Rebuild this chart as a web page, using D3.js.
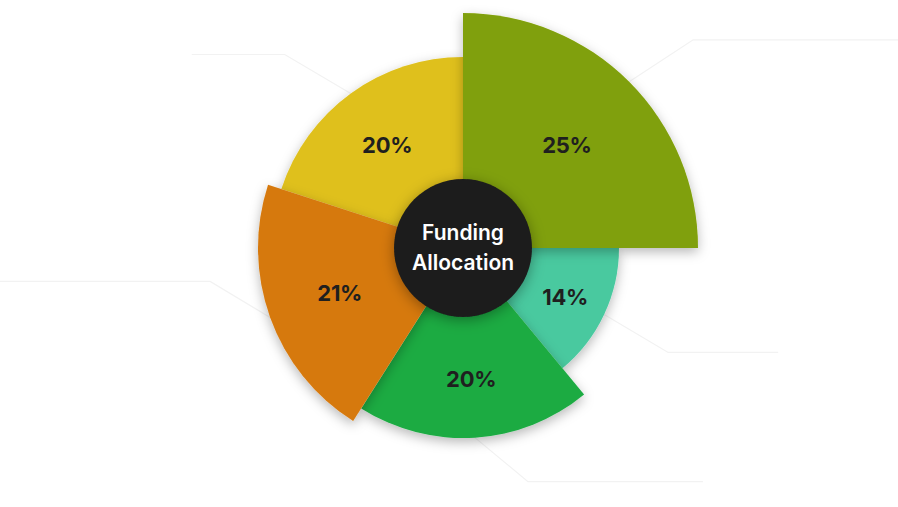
<!DOCTYPE html>
<html>
<head>
<meta charset="utf-8">
<script src="https://cdn.jsdelivr.net/npm/d3@7"></script>
<style>
  html, body { margin: 0; padding: 0; background: #fff; }
  svg { display: block; }
</style>
</head>
<body>
<svg id="chart" width="898" height="507"></svg>
<script>
// ---- data ----
const categories = ["A", "B", "C", "D", "E"];
const shares = [25, 14, 20, 21, 20];            // percent
const radiusWeight = [235, 156, 190, 205, 191]; // relative outer extent (rose-style)
const colors = ["#80a008", "#48c99f", "#1bab43", "#d6790c", "#dfc01d"];
const centerTitle = ["Funding", "Allocation"];

// ---- layout ----
const W = 898, H = 507;
const cx = 463, cy = 248;
const innerR = 69;
const leader = {
  dx: [64, 64, 53, 60, 66],
  dy: [42, 38, 44, 36, 39],
  up: [true, false, false, true, true],
  right: [true, true, true, false, false],
  len: [210, 110, 175, 212, 93]
};
const labelR = [147, 113, 130, 131, 129];

const svg = d3.select("#chart");
const defs = svg.append("defs");
const f = defs.append("filter").attr("id", "sh").attr("x", "-30%").attr("y", "-30%").attr("width", "160%").attr("height", "160%");
f.append("feDropShadow").attr("dx", 0).attr("dy", 4).attr("stdDeviation", 6).attr("flood-color", "#000").attr("flood-opacity", 0.28);
const f2 = defs.append("filter").attr("id", "sh2").attr("x", "-50%").attr("y", "-50%").attr("width", "200%").attr("height", "200%");
f2.append("feDropShadow").attr("dx", 0).attr("dy", 3).attr("stdDeviation", 7).attr("flood-color", "#000").attr("flood-opacity", 0.35);

const rScale = d3.scaleLinear().domain([0, 235]).range([0, 235]);

const pie = d3.pie().value(d => d.v).sort(null);
const data = categories.map((c, i) => ({ c, v: shares[i], r: radiusWeight[i], color: colors[i], i }));
const arcsData = pie(data);

const g = svg.append("g").attr("transform", `translate(${cx},${cy})`);

// leader lines
const lineG = g.append("g");
arcsData.forEach(a => {
  const i = a.data.i;
  const mid = (a.startAngle + a.endAngle) / 2;
  const R = rScale(a.data.r);
  const sx = Math.sin(mid) * R, sy = -Math.cos(mid) * R;
  const dirX = leader.right[i] ? 1 : -1, dirY = leader.up[i] ? -1 : 1;
  const ex = sx + dirX * leader.dx[i], ey = sy + dirY * leader.dy[i];
  const hx = ex + dirX * leader.len[i];
  lineG.append("path")
    .attr("d", d3.line()([[sx, sy], [ex, ey], [hx, ey]]))
    .attr("fill", "none").attr("stroke", "#f2f2f2").attr("stroke-width", 1.2);
});

// slices, drawn in ascending radius so larger slices cast shadow on smaller
const order = arcsData.slice().sort((a, b) => a.data.r - b.data.r);
const sliceG = g.append("g");
order.forEach(a => {
  const arc = d3.arc().innerRadius(0).outerRadius(rScale(a.data.r));
  sliceG.append("path")
    .attr("d", arc(a))
    .attr("fill", a.data.color)
    .attr("filter", "url(#sh)");
});

// labels
arcsData.forEach(a => {
  const i = a.data.i;
  const mid = (a.startAngle + a.endAngle) / 2;
  const lr = labelR[i];
  g.append("text")
    .attr("x", Math.sin(mid) * lr)
    .attr("y", -Math.cos(mid) * lr + 1)
    .attr("text-anchor", "middle")
    .attr("dominant-baseline", "central")
    .attr("font-family", "Inter, 'Noto Sans', sans-serif")
    .attr("font-weight", 700)
    .attr("font-size", 22)
    .attr("letter-spacing", -0.3)
    .attr("fill", "#1f1f1f")
    .text(a.data.v + "%");
});

// center circle
g.append("circle").attr("r", innerR).attr("fill", "#1c1c1c").attr("filter", "url(#sh2)");
centerTitle.forEach((t, k) => {
  g.append("text")
    .attr("x", 0)
    .attr("y", (k - 0.5) * 30 - 1)
    .attr("text-anchor", "middle")
    .attr("dominant-baseline", "central")
    .attr("font-family", "Inter, 'Noto Sans', sans-serif")
    .attr("font-weight", 600)
    .attr("font-size", 21)
    .attr("fill", "#ffffff")
    .text(t);
});
</script>
</body>
</html>
